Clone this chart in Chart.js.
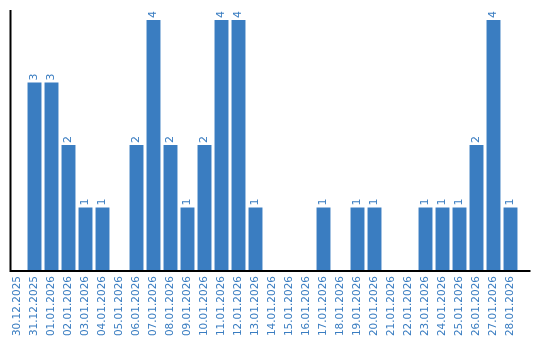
<!DOCTYPE html>
<html><head><meta charset="utf-8">
<script src="https://cdn.jsdelivr.net/npm/chart.js@4"></script>
<style>html,body{margin:0;padding:0;background:#fff}#w{width:540px;height:340px}</style>
</head><body><div id="w"><canvas id="c"></canvas></div>
<script>
const categories = ["30.12.2025","31.12.2025","01.01.2026","02.01.2026","03.01.2026","04.01.2026","05.01.2026","06.01.2026","07.01.2026","08.01.2026","09.01.2026","10.01.2026","11.01.2026","12.01.2026","13.01.2026","14.01.2026","15.01.2026","16.01.2026","17.01.2026","18.01.2026","19.01.2026","20.01.2026","21.01.2026","22.01.2026","23.01.2026","24.01.2026","25.01.2026","26.01.2026","27.01.2026","28.01.2026"];
const counts = [0,3,3,2,1,1,0,2,4,2,1,2,4,4,1,0,0,0,1,0,1,1,0,0,1,1,1,2,4,1];
const color = "#3a7dc1";
const FONT = "'DejaVu Sans', Verdana, sans-serif";
const valueLabels = {
  id: "valueLabels",
  afterDatasetsDraw(chart) {
    const ctx = chart.ctx;
    const meta = chart.getDatasetMeta(0);
    ctx.save();
    ctx.fillStyle = color;
    ctx.font = "11px " + FONT;
    ctx.textAlign = "left";
    ctx.textBaseline = "middle";
    meta.data.forEach((bar, i) => {
      const v = counts[i];
      if (!v) return;
      ctx.save();
      ctx.translate(bar.x, bar.y - 2);
      ctx.rotate(-Math.PI / 2);
      ctx.fillText(String(v), 0, 0);
      ctx.restore();
    });
    ctx.restore();
  }
};
const axisLines = {
  id: "axisLines",
  afterDraw(chart) {
    const a = chart.chartArea, ctx = chart.ctx;
    ctx.save();
    ctx.strokeStyle = "#000";
    ctx.lineWidth = 2;
    ctx.beginPath();
    ctx.moveTo(a.left + 1.5, a.top);
    ctx.lineTo(a.left + 1.5, a.bottom + 1);
    ctx.moveTo(a.left + 0.5, a.bottom + 1);
    ctx.lineTo(a.right + 11.5, a.bottom + 1);
    ctx.stroke();
    ctx.restore();
  }
};
new Chart(document.getElementById("c"), {
  type: "bar",
  data: { labels: categories, datasets: [{ data: counts, backgroundColor: color, barPercentage: 0.82, categoryPercentage: 1 }] },
  options: {
    responsive: true, maintainAspectRatio: false, animation: false,
    layout: { padding: { left: 9, right: 21, top: 10, bottom: 0 } },
    plugins: { legend: { display: false }, tooltip: { enabled: false } },
    scales: {
      x: {
        grid: { display: false, drawTicks: false },
        border: { display: false },
        ticks: { color: color, font: { size: 10.5, family: FONT }, minRotation: 90, maxRotation: 90, autoSkip: false, padding: 6 },
        afterFit(s) { s.height = 70; }
      },
      y: {
        min: 0, max: 4.16,
        grid: { display: false, drawTicks: false },
        border: { display: false },
        ticks: { display: false },
        afterFit(s) { s.width = 0; }
      }
    }
  },
  plugins: [valueLabels, axisLines]
});
</script></body></html>
